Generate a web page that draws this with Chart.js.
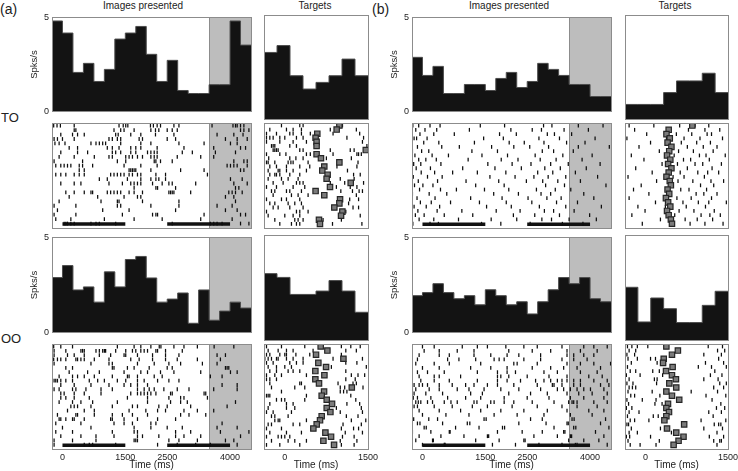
<!DOCTYPE html>
<html>
<head>
<meta charset="utf-8">
<script src="https://cdn.jsdelivr.net/npm/chart.js@4/dist/chart.umd.min.js"></script>
<style>
  body { margin:0; background:#fff; width:738px; height:471px; position:relative; overflow:hidden;
         font-family:"Liberation Sans", Arial, sans-serif; color:#222; }
  canvas { position:absolute; }
  .lbl { position:absolute; white-space:nowrap; line-height:1; }
  .ttl { position:absolute; white-space:nowrap; line-height:1; font-size:10px; transform:translateX(-50%); }
</style>
</head>
<body>
<div class="lbl" style="left:0;top:2px;font-size:14px;">(a)</div>
<div class="lbl" style="left:372px;top:2px;font-size:14px;">(b)</div>
<div class="lbl" style="left:1px;top:111px;font-size:13px;">TO</div>
<div class="lbl" style="left:1px;top:332px;font-size:13px;">OO</div>
<div class="ttl" style="left:143px;top:1px;">Images presented</div>
<div class="ttl" style="left:315px;top:1px;">Targets</div>
<div class="ttl" style="left:509px;top:1px;">Images presented</div>
<div class="ttl" style="left:675px;top:1px;">Targets</div>

<script>
/* ── data ── */
// time axes (ms)
const imgRange = [-250, 4500];
const tgtRange = [-375, 1500];
const imgBinWidth = 250;
const tgtBinWidth = 234.375;
const imgTicks = [0, 1500, 2500, 4000];
const tgtTicks = [0, 1500];
const stimOn = [0, 2500];
const stimOff = [1500, 4000];
const shadeStart = 3500, shadeEnd = 4500;

// PSTH, spikes/s
const histA_TO_img = [4.81,4.17,2.08,2.56,1.60,2.24,3.85,4.17,4.52,3.04,1.60,2.72,1.12,0.96,0.96,1.43,1.43,4.81,3.53];
const histA_TO_tgt = [3.20,3.53,2.08,1.44,1.76,2.08,2.88,2.08];
const histA_OO_img = [2.89,3.52,2.24,2.40,1.60,3.19,2.40,3.84,4.00,2.87,1.60,1.76,2.08,0.49,2.24,0.65,1.13,1.60,1.29];
const histA_OO_tgt = [3.16,2.98,2.17,2.17,2.33,2.83,2.33,1.32];
const histB_TO_img = [2.88,1.92,2.40,0.96,0.96,1.44,1.44,1.12,1.76,2.08,1.28,1.60,2.56,2.24,1.92,1.44,1.44,0.80,0.80];
const histB_TO_tgt = [0.70,0.70,0.70,1.27,1.83,1.83,2.20,1.27];
const histB_OO_img = [1.94,2.10,2.57,2.10,1.78,1.94,1.46,2.25,1.94,1.46,1.62,0.98,1.62,2.25,2.89,2.57,2.89,1.78,1.62];
const histB_OO_tgt = [2.51,0.86,2.00,1.49,0.83,0.83,1.65,2.32];

// rasters: spike times (ms) per trial, top trial first
const rasA_TO_img = [
  [-210,-130,-50,280,1350,1450,1510,1560,2100,2170,2260,2340,2660,2780,3570,4070,4130,4170,4250,4330],
  [280,320,1230,1390,1470,1710,2110,2220,2300,2500,2620,2740,4250,4330,4450],
  [-40,240,360,520,1270,1330,1630,1870,2220,2660,3690,4090,4310],
  [-200,-120,0,280,1110,1190,1310,1390,1830,1910,2500,2700,3890,4170,4410],
  [-180,-80,60,680,800,880,960,1030,1390,1870,2110,2780,3380,4010,4170],
  [-240,160,360,1070,1190,1350,1630,1750,1870,2260,2900,3610,4250,4370],
  [-40,360,600,1190,1270,1390,1630,1750,2030,2110,2190,2260,2860,3100,3650,4130],
  [-80,280,760,1110,1190,1510,1590,1670,1790,1910,2110,2190,2260,2740,3300,3610],
  [-200,480,1310,1510,2190,2230,2340,2620,4090,4330,4410],
  [-240,-160,-40,40,120,200,400,480,720,1470,1870,2260,3930,4010,4090,4170,4410],
  [400,520,1590,1630,1670,1710,1750,2110,2820,3380,4250,4330],
  [-160,-40,80,280,400,520,1150,1230,1310,1390,1470,1590,1670,1790,1870,2230,2460,3460],
  [880,1070,1550,1870,2110,2230,2300,2460,4010,4290],
  [-40,280,440,1110,1430,1630,1710,1790,1870,2150,2380,2540,2620,3180,4090,4410],
  [1710,2230,2270,2700,4130,4210],
  [80,280,520,680,720,1070,1150,1230,1310,1390,1590,1710,1910,2540,2580,2620,2660,3060,3970,4050,4130,4290],
  [160,840,1470,1790,1870,3890,4090],
  [-80,920,1310,1350,1910,2780,4130],
  [-200,320,1310,1390,2110,2780,3690,4050],
  [-120,960,1590,2700,3890,4170],
  [-200,320,1430,2150,2230,2270,3380,4250,4370],
  [-160,200,1000,1710,2380,3300,4050],
  [40,80,120,200,280,680,800,880,1270,2620,3530,3610,3690,3810,4250,4450]
];
const rasA_TO_tgt = [
  [-60,270,330,1040],
  [-270,30,150,300,820,1290],
  [-330,-150,90,150,300,460,870,1350],
  [-330,-270,-210,-90,0,210,330,1120,1420],
  [-330,-90,150,390,1400],
  [-240,-210,-180,90,210,1480],
  [-210,-180,-150,-120,270,330,820,1180,1250],
  [-330,-90,20,390,460,870,1300,1330,1380],
  [-290,90,200,330,750,1200],
  [-330,-300,-180,60,110,150,420,1000,1320],
  [-270,-150,30,270,450,940,1300],
  [-300,-120,-90,30,150,390,1130],
  [-270,-180,-150,-90,90,270,1240,1360],
  [-300,-60,60,240,1000,1250],
  [-210,-30,210,270,330,820,1080,1420],
  [-330,-150,150,360,930,1180,1300],
  [-240,-180,30,90,300,1010,1220,1340,1400],
  [-210,120,240,420,1290],
  [-330,-60,30,270,1170,1330],
  [-270,-180,60,180,300,1150],
  [-210,-120,90,330,1230,1330],
  [-330,210,270,420,1100],
  [-300,0,150,270,1050,1360],
  [-180,180,240,330,690,1020],
  [-90,120,210,270,860,1390]
];
const sqA_TO_tgt = [984,935,586,555,573,573,1460,573,652,984,712,676,772,754,1188,815,555,712,996,984,893,1038,1014,616,634];

const rasA_OO_img = [
  [-210,-40,240,1310,1710,1870,2110,2310,2350,2660,2900,3220,3620,4090],
  [-200,80,440,480,520,800,880,960,1000,1030,1270,1510,1670,1750,1870,1950,2030,2230,2270,2460,2860],
  [-200,120,280,520,880,1150,1470,1510,1790,2150,2460,2780,3690,3890],
  [-210,-120,-40,80,320,360,440,520,760,1110,1630,1830,2150,2460,2740,3220,3770],
  [-200,680,1110,1190,1790,2190,2540,2820,3340,3690],
  [80,240,1190,1230,1550,1710,2070,2500,2620,3890,3930,3970],
  [160,600,880,1470,1870,2030,2340,2660,3300,4010,4170],
  [-80,240,360,520,760,1190,1550,1590,1790,2190,2380,3530,3810],
  [-200,-160,-120,-40,80,240,640,840,1000,1310,1510,1790,1950,2270,2540,2780],
  [-40,280,680,1110,1470,1630,1790,2030,3810,4170],
  [-200,-80,240,320,560,920,1190,1790,1950,2070,2190,2420,2740,3020,3610,4170],
  [-40,40,280,520,920,1630,1790,1870,1950,2030,2110,2230,2580,2620,3380,3420],
  [-40,80,280,640,1550,2030,2540,2820,2900,3460],
  [-80,240,440,720,1310,2030,2580,2820,2980,4130],
  [200,280,360,680,1190,1670,1790,2300,2500,3060,3930],
  [120,520,760,1590,1990,2270,2460,2900,3220,3610],
  [-120,320,360,760,1190,1430,1670,2030,2820,3020,3420],
  [-80,-40,80,240,280,520,1150,1190,1470,1790,2270,2700],
  [-160,440,1230,1470,1670,2110,2230,3810],
  [0,680,1710,2110,2500,2860,3690,4170],
  [-160,240,1190,1710,1790,2700,3060,3770,4450],
  [-40,440,800,1230,1790,1910,2300,2700,2900,3300,4250],
  [-200,240,800,1710,1750,1790,2540,2780,3220,3890,4090],
  [-200,520,640,720,1270,2270,2740,3180,3530,4170]
];
const rasA_OO_tgt = [
  [-330,-60,360,1020,1190,1360],
  [-300,-120,30,150,510,1100,1290],
  [-330,-270,-90,0,30,200,450,1020],
  [-360,-300,-240,-150,-120,30,150,330,870,1400],
  [-330,-210,90,210,330,1100,1300],
  [-300,-150,0,120,840,1470],
  [-270,-150,60,150,270,1100],
  [-330,-180,-60,390,1200,1320,1440],
  [-330,-270,-150,1100,1270],
  [-270,270,300,960,1230,1290],
  [-240,180,360,1000,1080,1410],
  [-60,1000,1060,1120],
  [-330,-300,-270,390,1190],
  [-150,-60,0,360,1280],
  [-270,30,150,1120,1350],
  [-300,30,180,930,1380],
  [-330,-210,120,1000,1400],
  [-240,-180,60,1110,1320],
  [-180,-120,-90,390,1200,1460],
  [-300,-240,150,270,1050,1380],
  [-330,-60,1020,1240,1330],
  [-270,30,300,1090,1400],
  [-330,-120,-60,0,90,1040,1250],
  [-240,60,180,390,1000,1300],
  [-330,-90,270,1020,1250]
];
const sqA_OO_tgt = [647,768,563,1057,605,744,551,714,551,617,1208,708,665,756,852,756,822,665,635,575,515,732,834,696,888];

const rasB_TO_img = [
  [-230,-90,180,420,1380,1960,2890,3090,3720,4310],
  [-160,60,340,1120,2110,2620,2840,3380,3960],
  [-60,270,760,1840,2240,2980,3150,3560],
  [-200,-140,110,1460,1930,2780,3270,4120],
  [30,390,1240,2070,2430,2900,3440,3880],
  [-120,460,880,1650,2180,2560,3010,3720,4460],
  [-240,-20,150,1180,1790,2860,3130,3600],
  [-180,230,620,1420,2030,2690,3350,4050],
  [-90,80,330,1090,1880,2280,2810,3190,3810],
  [-210,-40,440,1560,2140,2590,3060,3480,4240],
  [-150,190,960,1730,2360,2920,3290,3910],
  [-30,290,720,1310,1990,2750,3110,3650],
  [-220,120,470,1610,2210,2660,3000,3420,4180],
  [-100,360,1040,1820,2480,2870,3230,3770],
  [-190,10,250,1270,1950,2940,3390,4380],
  [-70,430,810,1480,2060,2720,3170,3540],
  [-240,160,580,1700,2290,2830,3060,3850],
  [-130,300,1150,1900,2520,2970,3310,4090],
  [-50,210,670,1360,2000,2610,3200,3700],
  [-200,90,410,1530,2120,2790,3420,4270],
  [-110,350,940,1760,2330,2910,3130,3620],
  [-170,40,520,1200,2170,2680,3270,3990],
  [-80,270,860,1640,2250,2850,3080,3500,4150],
  [-230,180,380,1410,1870,2570,3340,3830]
];
const rasB_TO_tgt = [
  [-300,150,620,900,1150],
  [-200,430,780,1080,1350],
  [20,560,840,1120,1200],
  [-340,380,700,990,1400],
  [90,650,930,1180],
  [-120,480,760,1050,1300],
  [250,600,870,1230],
  [-260,520,980,1100,1450],
  [-30,690,820,1160],
  [300,580,900,1040,1380],
  [-180,440,760,1210],
  [120,630,950,1130,1330],
  [-320,500,700,1070],
  [200,590,860,1190,1420],
  [-80,460,1000,1240],
  [-220,640,790,1110],
  [60,410,920,1060,1300],
  [-300,570,830,1200],
  [180,680,960,1150,1470],
  [-140,360,740,1090],
  [-10,610,880,1250],
  [-250,530,1010,1170,1360],
  [270,720,940,1220],
  [-60,470,810,1080,1410]
];
const sqB_TO_tgt = [850,420,380,440,400,470,430,390,450,410,470,420,380,440,460,400,430,370,410,450,390,420,460,480];

const rasB_OO_img = [
  [0,280,950,1310,1550,1990,2420,2740,3330,3850,4090,4410],
  [40,400,830,1230,2060,2620,3060,3450,3770,4170],
  [-80,400,640,1230,1630,2020,2300,2820,3450,3610,3850,4090],
  [-120,600,870,1270,1710,1830,1950,2420,2820,3330,3610,3930],
  [-160,280,640,1390,2180,2260,2740,3450,3770,4090,4490],
  [0,400,1150,1630,2020,2620,3060,3370,3690,4250],
  [-120,120,520,1310,1790,2020,2220,2900,3220,3770,4170],
  [-80,280,400,910,1790,1870,2060,2500,3020,3450,3970,4290],
  [-40,280,640,1310,1790,2020,2340,2700,2900,3060,3220,3330,3450,3610,3770,4090,4410],
  [-200,-80,0,120,400,710,1030,1230,1550,1790,2180,2740,3100,3140,3330,3610,3770,4250,4450],
  [-240,-160,160,400,830,1110,1470,1870,2300,2820,3220,3370,3530,3690,3850,4010,4330],
  [-200,80,480,1150,1430,2060,2580,2980,3450,3730,4050,4410],
  [-220,-120,200,600,1030,1390,1950,2500,3020,3530,3850,4330],
  [-160,-100,-40,120,240,520,680,830,1230,1300,1630,1710,1950,2180,2620,3140,3490,3570,3610,3690,4090,4410],
  [-200,-120,280,710,1190,1550,2140,2740,3330,3690,4170],
  [-80,400,910,1390,1870,2420,2980,3450,3970,4330],
  [0,560,1110,1710,2260,2900,3530,4050],
  [-210,150,360,1470,1520,2580,2860,3570,3620,4370],
  [-120,-60,480,1070,1130,2300,2950,3450,3480,4250],
  [40,90,790,1350,1910,1960,3140,3610,3660,4450],
  [-240,200,640,660,1790,2380,2860,3370,3400,4130],
  [-80,440,990,1550,1580,2660,3220,3530,3560,4330],
  [-160,240,260,1270,1830,2420,2450,3490,3850,4210],
  [0,520,540,1670,2220,2780,3330,3650,3690,4410]
];
const rasB_OO_tgt = [
  [-330,-250,-150,40,1140,1400],
  [-300,-180,1310,1440],
  [-340,-200,1060,1380],
  [-320,-150,90,180,1330],
  [-260,210,1090,1420],
  [-330,960,1200,1470],
  [-280,-180,130,250,1260],
  [-350,-100,310,1180,1390],
  [-300,160,210,1060,1320],
  [-340,-230,200,450,1350,1470],
  [-300,-240,-180,1240,1420],
  [-320,120,830,1310],
  [-270,-200,260,1100,1460],
  [-340,-60,190,1210],
  [-310,170,300,1370],
  [-350,-250,1290,1440],
  [-300,-120,400,1150,1380],
  [-330,140,230,1230],
  [-280,-200,60,1010,1460],
  [-340,-310,720,1250,1330,1370],
  [-260,270,1060,1400],
  [-300,-150,470,1300],
  [-350,-290,90,1160,1420],
  [-320,250,1240,1350,1380],
  [-280,-100,190,1300]
];
const sqB_OO_tgt = [378,588,480,330,318,492,372,480,552,432,558,378,480,612,408,378,426,378,342,702,390,558,690,600,510];

/* ── plugins ── */
const shadePlugin = {
  id: 'shade',
  beforeDatasetsDraw(chart, args, opts) {
    if (!opts || opts.from == null) return;
    const { ctx, chartArea: a, scales: { x } } = chart;
    const x0 = Math.round(x.getPixelForValue(opts.from));
    const x1 = Math.round(x.getPixelForValue(opts.to));
    ctx.save();
    ctx.fillStyle = '#bdbdbd';
    ctx.fillRect(x0, a.top, x1 - x0, a.bottom - a.top);
    ctx.strokeStyle = '#8c8c8c';
    ctx.lineWidth = 1;
    ctx.beginPath();
    ctx.moveTo(x0 + 0.5, a.top);
    ctx.lineTo(x0 + 0.5, a.bottom);
    ctx.stroke();
    ctx.restore();
  }
};
const framePlugin = {
  id: 'frame',
  afterDatasetsDraw(chart) {
    const { ctx, chartArea: a } = chart;
    ctx.save();
    ctx.strokeStyle = '#8c8c8c';
    ctx.lineWidth = 1;
    ctx.strokeRect(Math.round(a.left) + 0.5, Math.round(a.top) + 0.5,
                   Math.round(a.right - a.left), Math.round(a.bottom - a.top));
    ctx.restore();
  }
};
Chart.register(shadePlugin, framePlugin);

function makeCanvas(left, top, w, h) {
  const c = document.createElement('canvas');
  c.width = w; c.height = h;
  c.style.left = left + 'px'; c.style.top = top + 'px';
  c.style.width = w + 'px'; c.style.height = h + 'px';
  document.body.appendChild(c);
  return c;
}

// panel rectangles [x, w] and rows [y, h]
const COL = { aImg:[52,199], aTgt:[264,104], bImg:[412,199], bTgt:[625,103] };
const ROW = { toHist:[15,104], toRas:[123,105], ooHist:[235,105], ooRas:[344,105] };

function histChart(col, row, values, range, binWidth, withAxis, shade) {
  const [X, W] = col, [Y, H] = row;
  const c = withAxis ? makeCanvas(X - 30, Y - 6, W + 31, H + 7) : makeCanvas(X, Y, W + 1, H + 1);
  const pts = values.map((v, k) => ({ x: range[0] + k * binWidth, y: v }));
  pts.push({ x: range[0] + values.length * binWidth, y: values[values.length - 1] });
  const yScale = { min:0, max:5, display: withAxis };
  if (withAxis) {
    Object.assign(yScale, {
      ticks: { stepSize:5, font:{ size:9 }, color:'#222', padding:3 },
      grid: { display:false, drawTicks:false }, border: { display:false },
      title: { display:true, text:'Spks/s', font:{ size:9.5 }, color:'#222', padding:{ top:7, bottom:0 } },
      afterFit(s) { s.width = 30; }
    });
  }
  return new Chart(c, {
    type: 'line',
    data: { datasets: [{ data: pts, stepped: 'before', fill: 'origin', backgroundColor: '#131313',
      borderColor: '#4d4d4d', borderWidth: 1, pointRadius: 0 }] },
    options: {
      responsive: false, animation: false, events: [], devicePixelRatio: 1,
      layout: { autoPadding: false,
                padding: withAxis ? { top:6, right:1, bottom:1, left:0 } : { top:0, right:1, bottom:1, left:0 } },
      plugins: { legend: { display:false }, tooltip: { enabled:false }, shade: shade || {} },
      scales: {
        x: { type:'linear', min: range[0], max: range[1], display:false },
        y: yScale
      }
    }
  });
}

function rasterChart(col, row, trials, squares, range, ticks, withAxis, shade, stim) {
  const [X, W] = col, [Y, H] = row;
  const c = withAxis ? makeCanvas(X, Y, W + 13, H + 22) : makeCanvas(X, Y, W + 1, H + 1);
  const n = trials.length;
  const spikes = [];
  trials.forEach((r, i) => r.forEach(t => spikes.push({ x: t, y: n - i })));
  const datasets = [];
  if (squares) {
    datasets.push({ type:'scatter', data: squares.map((t, i) => ({ x: t, y: n - i })),
      pointStyle:'rect', pointRadius:3.8, pointBackgroundColor:'#7b7b7b', pointBorderColor:'#262626', pointBorderWidth:1.2 });
  }
  datasets.push({ type:'scatter', data: spikes, pointStyle:'line', pointRotation:90, pointRadius:1.9,
    pointBorderColor:'#0d0d0d', pointBorderWidth:1.25 });
  if (stim) {
    stimOn.forEach((t0, k) => datasets.push({ type:'line', data:[{ x:t0, y:0.9 }, { x:stimOff[k], y:0.9 }],
      borderColor:'#111', borderWidth:3.5, borderCapStyle:'butt', pointRadius:0 }));
  }
  const xScale = { type:'linear', min: range[0], max: range[1], display: withAxis };
  if (withAxis) {
    Object.assign(xScale, {
      afterBuildTicks(s) { s.ticks = ticks.map(v => ({ value: v })); },
      ticks: { font:{ size:9 }, color:'#222', padding:3, maxRotation:0, autoSkip:false, callback: v => String(v) },
      grid: { display:false, drawTicks:false }, border: { display:false },
      title: { display:true, text:'Time (ms)', font:{ size:10 }, color:'#222', padding:{ top:0, bottom:0 } },
      afterFit(s) { s.height = 22; }
    });
  }
  return new Chart(c, {
    type: 'scatter',
    data: { datasets },
    options: {
      responsive: false, animation: false, events: [], devicePixelRatio: 1,
      layout: { autoPadding: false,
                padding: withAxis ? { top:0, right:13, bottom:0, left:0 } : { top:0, right:1, bottom:1, left:0 } },
      plugins: { legend: { display:false }, tooltip: { enabled:false }, shade: shade || {} },
      scales: {
        x: xScale,
        y: { min:0, max: n + 0.6, display:false }
      }
    }
  });
}

const shade = { from: shadeStart, to: shadeEnd };

// panel (a)
histChart(COL.aImg, ROW.toHist, histA_TO_img, imgRange, imgBinWidth, true, shade);
histChart(COL.aTgt, ROW.toHist, histA_TO_tgt, tgtRange, tgtBinWidth, false, null);
rasterChart(COL.aImg, ROW.toRas, rasA_TO_img, null, imgRange, imgTicks, false, shade, true);
rasterChart(COL.aTgt, ROW.toRas, rasA_TO_tgt, sqA_TO_tgt, tgtRange, tgtTicks, false, null, false);
histChart(COL.aImg, ROW.ooHist, histA_OO_img, imgRange, imgBinWidth, true, shade);
histChart(COL.aTgt, ROW.ooHist, histA_OO_tgt, tgtRange, tgtBinWidth, false, null);
rasterChart(COL.aImg, ROW.ooRas, rasA_OO_img, null, imgRange, imgTicks, true, shade, true);
rasterChart(COL.aTgt, ROW.ooRas, rasA_OO_tgt, sqA_OO_tgt, tgtRange, tgtTicks, true, null, false);

// panel (b)
histChart(COL.bImg, ROW.toHist, histB_TO_img, imgRange, imgBinWidth, true, shade);
histChart(COL.bTgt, ROW.toHist, histB_TO_tgt, tgtRange, tgtBinWidth, false, null);
rasterChart(COL.bImg, ROW.toRas, rasB_TO_img, null, imgRange, imgTicks, false, shade, true);
rasterChart(COL.bTgt, ROW.toRas, rasB_TO_tgt, sqB_TO_tgt, tgtRange, tgtTicks, false, null, false);
histChart(COL.bImg, ROW.ooHist, histB_OO_img, imgRange, imgBinWidth, true, shade);
histChart(COL.bTgt, ROW.ooHist, histB_OO_tgt, tgtRange, tgtBinWidth, false, null);
rasterChart(COL.bImg, ROW.ooRas, rasB_OO_img, null, imgRange, imgTicks, true, shade, true);
rasterChart(COL.bTgt, ROW.ooRas, rasB_OO_tgt, sqB_OO_tgt, tgtRange, tgtTicks, true, null, false);
</script>
</body>
</html>
